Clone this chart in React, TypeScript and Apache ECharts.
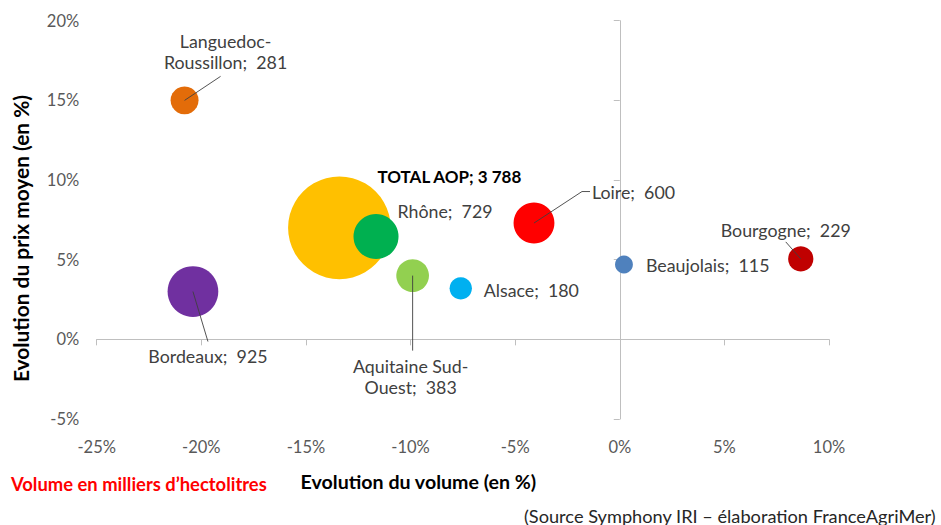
import React, { useEffect, useRef } from "react";
import * as echarts from "echarts";

// ---- Data ----
const regions = [
  "Languedoc-\nRoussillon",
  "Bordeaux",
  "TOTAL AOP",
  "Rhône",
  "Aquitaine Sud-\nOuest",
  "Alsace",
  "Loire",
  "Beaujolais",
  "Bourgogne",
];
const volumeEvolution = [-20.8, -20.4, -13.4, -11.65, -9.9, -7.6, -4.1, 0.2, 8.65];
const priceEvolution = [15.0, 3.0, 7.0, 6.45, 4.0, 3.2, 7.3, 4.7, 5.05];
const volumes = [281, 925, 3788, 729, 383, 180, 600, 115, 229];
const colors = ["#E36C09", "#7030A0", "#FFC000", "#00B050", "#92D050", "#00B0F0", "#FF0000", "#4F81BD", "#C00000"];

const xTicks = { min: -25, max: 10, interval: 5 };
const yTicks = { min: -5, max: 20, interval: 5 };

// ---- Layout (label offsets / leader lines, pixels relative to bubble centre) ----
const LABEL_LAYOUT: Record<string, { dx: number; dy: number; align: string }> = {
  "Languedoc-\nRoussillon": { dx: 41, dy: -49, align: "center" },
  Bordeaux: { dx: 15, dy: 64, align: "center" },
  "TOTAL AOP": { dx: 110, dy: -51, align: "center" },
  "Rhône": { dx: 69, dy: -26, align: "center" },
  "Aquitaine Sud-\nOuest": { dx: -2, dy: 101, align: "center" },
  Alsace: { dx: 23, dy: 2, align: "left" },
  Loire: { dx: 58, dy: -31, align: "left" },
  Beaujolais: { dx: 22, dy: 1, align: "left" },
  Bourgogne: { dx: -15, dy: -29, align: "center" },
};
const LEADERS: Record<string, number[][]> = {
  "Languedoc-\nRoussillon": [[36, -24]],
  Bordeaux: [[15, 50]],
  "Aquitaine Sud-\nOuest": [[0, 75]],
  Loire: [[48, -31.5], [56, -31.5]],
  Bourgogne: [[-15, -17]],
};

const FONT = "Lato, 'Open Sans', sans-serif";
const SIZE_K = 1.668;

function fmtThousands(v: number) {
  return String(v).replace(/\B(?=(\d{3})+(?!\d))/g, " ");
}

export default function App() {
  const ref = useRef<HTMLDivElement>(null);

  useEffect(() => {
    if (!ref.current) return;
    const chart = echarts.init(ref.current, undefined, { renderer: "svg" });

    const bubbleData = regions.map((name, i) => {
      const lay = LABEL_LAYOUT[name];
      const isTotal = name === "TOTAL AOP";
      return {
        name,
        value: [volumeEvolution[i], priceEvolution[i], volumes[i]],
        itemStyle: { color: colors[i], opacity: 1 },
        label: {
          show: true,
          position: "inside",
          offset: [lay.dx, lay.dy],
          align: lay.align,
          verticalAlign: "middle",
          color: isTotal ? "#000000" : "#404040",
          fontWeight: isTotal ? "bold" : "normal",
          fontSize: isTotal ? 17 : 17.8,
          lineHeight: 21,
          fontFamily: FONT,
          formatter: isTotal
            ? `${name}; ${fmtThousands(volumes[i])}`
            : `${name};  ${fmtThousands(volumes[i])}`,
        },
      };
    });

    const leaderData = regions
      .map((name, i) => ({ name, value: [volumeEvolution[i], priceEvolution[i]] }))
      .filter((d) => LEADERS[d.name]);

    const tickLabelStyle = { color: "#595959", fontSize: 16.5, fontFamily: FONT };

    chart.setOption({
      animation: false,
      backgroundColor: "#ffffff",
      grid: { left: 96.7, right: 112, top: 20.7, bottom: 106, containLabel: false },
      xAxis: [
        {
          type: "value",
          ...xTicks,
          position: "bottom",
          axisLine: { show: false },
          axisTick: { show: false },
          splitLine: { show: false },
          axisLabel: { ...tickLabelStyle, margin: 19, formatter: "{value}%" },
        },
        {
          type: "value",
          ...xTicks,
          position: "bottom",
          axisLine: { show: true, onZero: true, lineStyle: { color: "#BFBFBF", width: 1 } },
          axisTick: { show: true, length: 6, lineStyle: { color: "#BFBFBF" } },
          splitLine: { show: false },
          axisLabel: { show: false },
        },
      ],
      yAxis: [
        {
          type: "value",
          ...yTicks,
          position: "left",
          axisLine: { show: false },
          axisTick: { show: false },
          splitLine: { show: false },
          axisLabel: { ...tickLabelStyle, margin: 17.5, formatter: "{value}%" },
        },
        {
          type: "value",
          ...yTicks,
          position: "left",
          axisLine: { show: true, onZero: true, lineStyle: { color: "#BFBFBF", width: 1 } },
          axisTick: { show: true, length: 6, lineStyle: { color: "#BFBFBF" } },
          splitLine: { show: false },
          axisLabel: { show: false },
        },
      ],
      series: [
        {
          type: "scatter",
          xAxisIndex: 0,
          yAxisIndex: 0,
          symbol: "circle",
          symbolSize: (val: number[]) => SIZE_K * Math.sqrt(val[2]),
          data: bubbleData,
          itemStyle: { opacity: 1 },
          z: 3,
          silent: true,
        },
        {
          type: "custom",
          xAxisIndex: 0,
          yAxisIndex: 0,
          data: leaderData,
          z: 4,
          silent: true,
          renderItem: (params: any, api: any) => {
            const name = leaderData[params.dataIndex].name;
            const c = api.coord([api.value(0), api.value(1)]);
            const pts = [c, ...LEADERS[name].map((p) => [c[0] + p[0], c[1] + p[1]])];
            return {
              type: "polyline",
              shape: { points: pts },
              style: { stroke: "#404040", lineWidth: 0.9, fill: "none" },
            };
          },
        },
      ],
      graphic: [
        {
          type: "text",
          x: 418.4,
          y: 481.7,
          style: {
            text: "Evolution du volume (en %)",
            fontFamily: FONT,
            fontWeight: "bold",
            fontSize: 19.6,
            fill: "#000000",
            textAlign: "center",
            textVerticalAlign: "middle",
          },
        },
        {
          type: "text",
          x: 20,
          y: 238.5,
          rotation: Math.PI / 2,
          style: {
            text: "Evolution du prix moyen (en %)",
            fontFamily: FONT,
            fontWeight: "bold",
            fontSize: 20.9,
            fill: "#000000",
            textAlign: "center",
            textVerticalAlign: "middle",
          },
        },
        {
          type: "text",
          x: 11,
          y: 483.5,
          style: {
            text: "Volume en milliers d\u2019hectolitres",
            fontFamily: FONT,
            fontWeight: "bold",
            fontSize: 18.4,
            fill: "#FF0000",
            textAlign: "left",
            textVerticalAlign: "middle",
          },
        },
        {
          type: "text",
          x: 524,
          y: 515.5,
          style: {
            text: "(Source Symphony IRI \u2013 élaboration FranceAgriMer)",
            fontFamily: FONT,
            fontSize: 18.2,
            fill: "#262626",
            textAlign: "left",
            textVerticalAlign: "middle",
          },
        },
      ],
    });

    return () => chart.dispose();
  }, []);

  return (
    <div
      ref={ref}
      style={{ position: "fixed", left: 0, top: 0, width: 941, height: 525, background: "#ffffff" }}
    />
  );
}
